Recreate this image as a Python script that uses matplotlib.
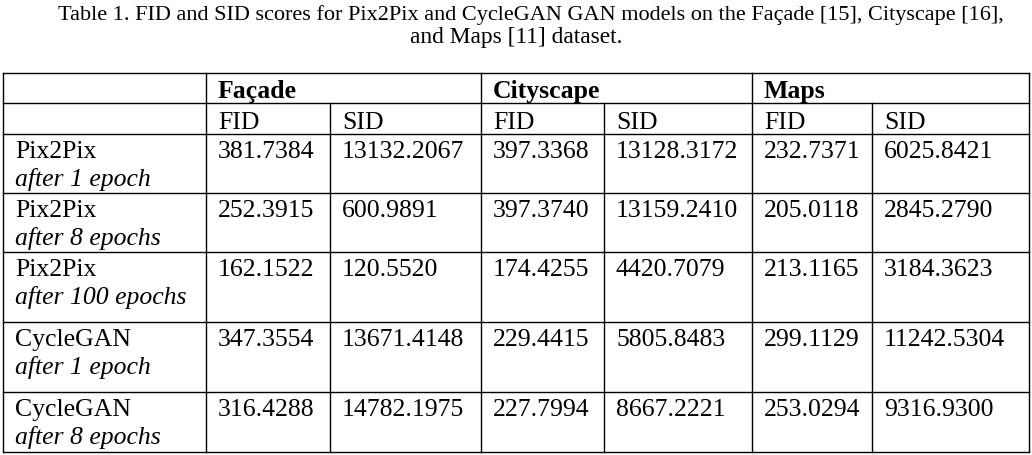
import matplotlib
matplotlib.use("Agg")
import matplotlib.pyplot as plt

# ---- data ----
caption_lines = [
    "Table 1. FID and SID scores for Pix2Pix and CycleGAN GAN models on the Façade [15], Cityscape [16],",
    "and Maps [11] dataset.",
]
datasets = ["Façade", "Cityscape", "Maps"]
metrics = ["FID", "SID"]
models = ["Pix2Pix", "Pix2Pix", "Pix2Pix", "CycleGAN", "CycleGAN"]
epochs = ["after 1 epoch", "after 8 epochs", "after 100 epochs", "after 1 epoch", "after 8 epochs"]
facade_fid = [381.7384, 252.3915, 162.1522, 347.3554, 316.4288]
facade_sid = [13132.2067, 600.9891, 120.5520, 13671.4148, 14782.1975]
city_fid = [397.3368, 397.3740, 174.4255, 229.4415, 227.7994]
city_sid = [13128.3172, 13159.2410, 4420.7079, 5805.8483, 8667.2221]
maps_fid = [232.7371, 205.0118, 213.1165, 299.1129, 253.0294]
maps_sid = [6025.8421, 2845.2790, 3184.3623, 11242.5304, 9316.9300]

values = [facade_fid, facade_sid, city_fid, city_sid, maps_fid, maps_sid]

# ---- layout ----
W, H = 1032, 456
fig = plt.figure(figsize=(W / 100, H / 100), dpi=100)
ax = fig.add_axes([0, 0, 1, 1])
ax.set_xlim(0, W)
ax.set_ylim(H, 0)
ax.axis("off")

FONT = "Liberation Serif"
body_fs = 18.5
cap_fs1 = 16.0
cap_fs2 = 16.8
lw = 1.0

xs = [3, 206, 330, 481, 604, 752, 872, 1029]
ys = [74, 104, 135, 194, 253, 323, 393, 453]
pad = 12

# caption
ax.text(531, 15, caption_lines[0], fontsize=cap_fs1, family=FONT, ha="center", va="center", color="black")
ax.text(516, 38, caption_lines[1], fontsize=cap_fs2, family=FONT, ha="center", va="center", color="black")

# horizontal rules
for y in ys:
    ax.plot([xs[0], xs[-1]], [y, y], color="black", lw=lw, solid_capstyle="projecting")
# vertical rules
for i, x in enumerate(xs):
    top = ys[1] if i in (2, 4, 6) else ys[0]
    ax.plot([x, x], [top, ys[-1]], color="black", lw=lw, solid_capstyle="projecting")

# header rows
for k, name in enumerate(datasets):
    ax.text(xs[1 + 2 * k] + pad, ys[0] + 24, name, fontsize=body_fs, family=FONT,
            fontweight="bold", ha="left", va="baseline", color="black")
    for m, met in enumerate(metrics):
        ax.text(xs[1 + 2 * k + m] + pad, ys[1] + 25, met, fontsize=body_fs, family=FONT,
                ha="left", va="baseline", color="black")

# body rows
for r in range(len(models)):
    top = ys[2 + r]
    ax.text(xs[0] + pad, top + 23, models[r], fontsize=body_fs, family=FONT,
            ha="left", va="baseline", color="black")
    ax.text(xs[0] + pad, top + 51, epochs[r], fontsize=body_fs, family=FONT,
            style="italic", ha="left", va="baseline", color="black")
    for c, col in enumerate(values):
        ax.text(xs[1 + c] + pad, top + 23, f"{col[r]:.4f}", fontsize=body_fs, family=FONT,
                ha="left", va="baseline", color="black")

fig.savefig("out.png", dpi=100, facecolor="white")
